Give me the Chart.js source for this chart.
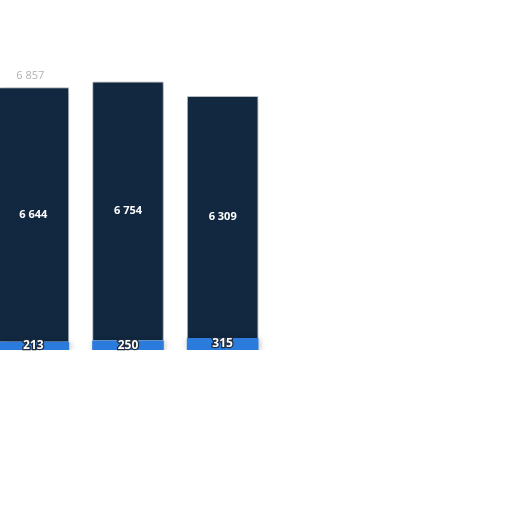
<!DOCTYPE html>
<html>
<head>
<meta charset="utf-8">
<script src="https://cdn.jsdelivr.net/npm/chart.js@4"></script>
<style>
  html, body { margin: 0; padding: 0; background: #fff; overflow: hidden; }
  #wrap { position: absolute; left: -14px; top: 0; width: 284px; height: 512px; }
</style>
</head>
<body>
<div id="wrap"><canvas id="chart"></canvas></div>
<script>
const categories = ['A', 'B', 'C'];
const baseValues = [213, 250, 315];
const mainValues = [6644, 6754, 6309];
const totalLabels = ['6 857', '', ''];

const fmt = v => String(v).replace(/\B(?=(\d{3})+(?!\d))/g, ' ');

// ombre légère sous les barres
const shadowPlugin = {
    id: 'shadow',
    beforeDatasetsDraw(chart) {
        const ctx = chart.ctx;
        ctx.save();
        ctx.shadowColor = 'rgba(0,0,0,0.28)';
        ctx.shadowBlur = 6;
        ctx.shadowOffsetX = 1;
        ctx.shadowOffsetY = 1;
    },
    afterDatasetsDraw(chart) {
        chart.ctx.restore();
    }
};

// étiquettes dans les segments + total
const labelPlugin = {
    id: 'labels',
    afterDraw(chart) {
        const ctx = chart.ctx;
        ctx.save();
        ctx.textAlign = 'center';
        ctx.textBaseline = 'middle';
        chart.data.datasets.forEach((ds, i) => {
            chart.getDatasetMeta(i).data.forEach((bar, j) => {
                const y = (bar.y + bar.base) / 2;
                if (i === 0) {
                    ctx.font = 'bold 12px "Open Sans", sans-serif';
                    ctx.lineWidth = 2.5;
                    ctx.strokeStyle = '#1b2a3c';
                    ctx.strokeText(fmt(ds.data[j]), bar.x, y);
                } else {
                    ctx.font = 'bold 11px "Open Sans", sans-serif';
                }
                ctx.fillStyle = '#ffffff';
                ctx.fillText(fmt(ds.data[j]), bar.x, y);
            });
        });
        const top = chart.getDatasetMeta(1).data;
        ctx.font = '11px "Open Sans", sans-serif';
        ctx.fillStyle = '#b0b0b0';
        top.forEach((bar, j) => {
            if (totalLabels[j]) ctx.fillText(totalLabels[j], bar.x - 3, bar.y - 11);
        });
        ctx.restore();
    }
};

new Chart(document.getElementById('chart'), {
    type: 'bar',
    data: {
        labels: categories,
        datasets: [
            {
                data: baseValues,
                backgroundColor: '#2b7bdc',
                borderWidth: 0,
                barPercentage: 0.757,
                categoryPercentage: 1
            },
            {
                data: mainValues,
                backgroundColor: '#112840',
                borderColor: '#c9cdd2',
                borderWidth: { top: 1, left: 1, right: 1, bottom: 0 },
                barPercentage: 0.757,
                categoryPercentage: 1
            }
        ]
    },
    options: {
        responsive: true,
        maintainAspectRatio: false,
        animation: false,
        layout: { padding: { top: 5, bottom: 162, left: 0, right: 0 } },
        plugins: {
            legend: { display: false },
            tooltip: { enabled: false }
        },
        scales: {
            x: { stacked: true, display: false },
            y: { stacked: true, display: false, min: 0, max: 9000 }
        }
    },
    plugins: [shadowPlugin, labelPlugin]
});
</script>
</body>
</html>
